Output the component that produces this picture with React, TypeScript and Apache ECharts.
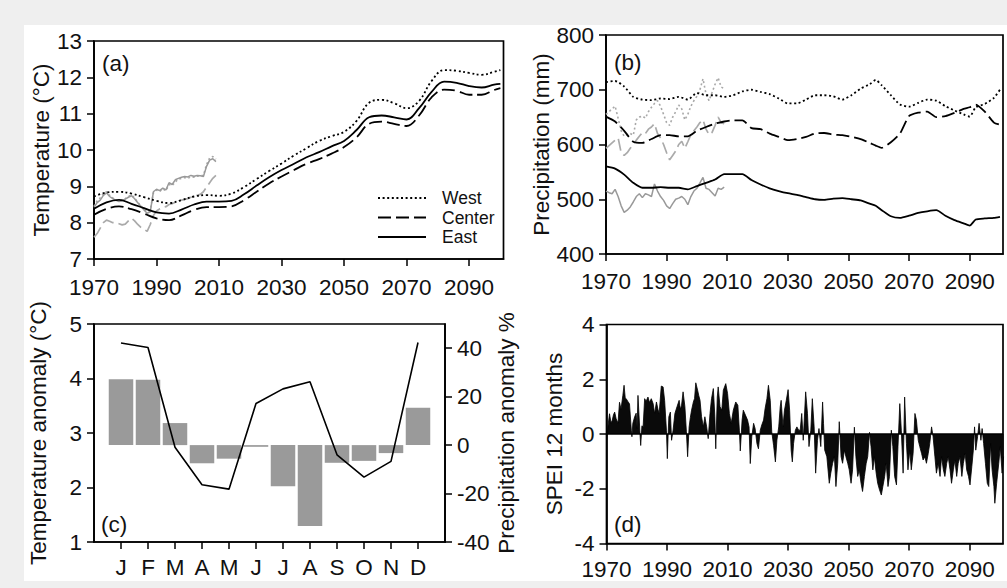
import React, { useEffect, useRef } from 'react';
import * as echarts from 'echarts';

const FONT = '"Liberation Sans", Arial, Helvetica, sans-serif';
const INK = '#111';
const FS = 22.5;

// ---------- Panel (a): temperature ----------
const projYearsA = [1970, 1974, 1978, 1982, 1986, 1990, 1994, 1998, 2002, 2006, 2010, 2014, 2018, 2022, 2026, 2030, 2034, 2038, 2042, 2046, 2050, 2054, 2058, 2062, 2066, 2070, 2074, 2078, 2082, 2086, 2090, 2094, 2098, 2100];
const westTempA = [8.72, 8.83, 8.85, 8.8, 8.7, 8.6, 8.54, 8.62, 8.72, 8.76, 8.74, 8.8, 8.98, 9.2, 9.42, 9.63, 9.85, 10.05, 10.25, 10.38, 10.5, 10.8, 11.3, 11.38, 11.29, 11.15, 11.35, 11.9, 12.2, 12.18, 12.12, 12.07, 12.15, 12.2];
const centerTempA = [8.22, 8.38, 8.45, 8.37, 8.25, 8.12, 8.07, 8.2, 8.35, 8.43, 8.43, 8.45, 8.62, 8.85, 9.08, 9.27, 9.45, 9.62, 9.75, 9.9, 10.08, 10.35, 10.72, 10.78, 10.72, 10.66, 10.95, 11.45, 11.66, 11.63, 11.52, 11.52, 11.65, 11.7];
const eastTempA = [8.38, 8.56, 8.63, 8.52, 8.4, 8.28, 8.25, 8.36, 8.5, 8.58, 8.58, 8.6, 8.78, 9.02, 9.25, 9.45, 9.62, 9.8, 9.94, 10.1, 10.25, 10.55, 10.9, 10.95, 10.9, 10.84, 11.15, 11.6, 11.88, 11.85, 11.76, 11.72, 11.8, 11.82];

const obsYears = Array.from({ length: 40 }, (_, i) => 1970 + i);
const westTempObs = [8.45, 8.6, 8.68, 8.8, 8.85, 8.75, 8.68, 8.62, 8.6, 8.62, 8.66, 8.72, 8.76, 8.68, 8.56, 8.46, 8.38, 8.3, 8.35, 8.82, 8.9, 8.86, 8.93, 8.88, 9.05, 9.02, 9.12, 9.2, 9.22, 9.24, 9.22, 9.26, 9.25, 9.28, 9.3, 9.3, 9.6, 9.78, 9.82, 9.75];
const centerTempObs = [7.6, 7.7, 7.85, 8.0, 8.07, 8.04, 8.0, 8.0, 7.97, 7.94, 7.96, 8.05, 8.12, 8.05, 7.95, 7.87, 7.82, 7.76, 7.95, 8.2, 8.32, 8.38, 8.42, 8.44, 8.5, 8.52, 8.56, 8.6, 8.62, 8.64, 8.66, 8.7, 8.72, 8.75, 8.78, 8.85, 8.98, 9.1, 9.22, 9.3];
const eastTempObs = [8.42, 8.55, 8.62, 8.75, 8.82, 8.72, 8.66, 8.62, 8.58, 8.6, 8.65, 8.7, 8.74, 8.66, 8.55, 8.45, 8.35, 8.26, 8.3, 8.85, 8.92, 8.88, 8.95, 8.9, 9.1, 9.05, 9.18, 9.22, 9.25, 9.27, 9.26, 9.3, 9.28, 9.3, 9.29, 9.27, 9.55, 9.72, 9.76, 9.68];

// ---------- Panel (b): precipitation ----------
const projYearsB = [1970, 1973, 1976, 1979, 1982, 1985, 1988, 1991, 1994, 1997, 2000, 2003, 2006, 2009, 2012, 2015, 2018, 2021, 2024, 2027, 2030, 2033, 2036, 2039, 2042, 2045, 2048, 2051, 2054, 2057, 2059, 2061, 2064, 2067, 2070, 2073, 2076, 2079, 2082, 2085, 2088, 2090, 2092, 2095, 2098, 2100];
const westPrecB = [714, 716, 706, 687, 682, 681, 684, 683, 687, 682, 694, 690, 690, 687, 690, 697, 700, 696, 692, 684, 675, 675, 682, 690, 690, 688, 682, 690, 702, 710, 718, 708, 690, 673, 669, 676, 682, 680, 670, 662, 655, 651, 668, 674, 685, 700];
const centerPrecB = [651, 642, 625, 605, 603, 610, 617, 617, 615, 615, 625, 632, 638, 642, 644, 644, 630, 628, 620, 614, 608, 610, 614, 620, 621, 618, 617, 614, 610, 603, 598, 594, 604, 620, 652, 658, 660, 650, 652, 658, 665, 668, 673, 660, 640, 636];
const eastPrecB = [560, 556, 545, 530, 521, 521, 522, 521, 521, 518, 524, 530, 536, 546, 546, 546, 535, 527, 520, 515, 511, 508, 504, 500, 499, 501, 502, 500, 498, 492, 488, 480, 469, 466, 470, 475, 478, 480, 470, 462, 456, 452, 463, 465, 466, 468];

const westPrecObs = [655, 660, 665, 670, 648, 625, 615, 618, 620, 617, 645, 650, 652, 648, 660, 668, 675, 680, 670, 655, 640, 635, 650, 660, 672, 665, 645, 655, 670, 680, 688, 700, 720, 692, 680, 695, 710, 722, 705, 702];
const centerPrecObs = [593, 598, 603, 608, 612, 585, 580, 585, 593, 600, 608, 615, 622, 620, 628, 632, 638, 620, 612, 600, 585, 572, 580, 588, 600, 606, 593, 605, 618, 625, 632, 640, 645, 628, 618, 622, 635, 650, 640, 638];
const eastPrecObs = [515, 512, 510, 518, 505, 488, 476, 480, 486, 495, 505, 510, 503, 510, 508, 505, 528, 515, 505, 498, 488, 483, 492, 500, 502, 505, 500, 490, 505, 515, 520, 530, 540, 520, 518, 512, 506, 520, 518, 522];

// ---------- Panel (c): monthly anomalies ----------
const months = ['J', 'F', 'M', 'A', 'M', 'J', 'J', 'A', 'S', 'O', 'N', 'D'];
const tempAnomaly = [4.65, 4.57, 2.74, 2.05, 1.97, 3.54, 3.81, 3.94, 2.6, 2.19, 2.48, 4.66];
const precipAnomaly = [27.2, 27.0, 9.1, -7.5, -5.6, -0.7, -17.0, -33.4, -7.3, -6.5, -3.3, 15.4];

// ---------- Panel (d): SPEI 12 months ----------
const speiSeries: [number, number][] = [
  [1970.0, -0.2], [1970.5, 0.3], [1971.0, 0.74], [1971.5, 0.4], [1971.9, 0.5], [1972.3, 0.7], [1972.7, 0.8], [1973.2, 0.55], [1973.8, 0.4], [1974.3, 1.16],
  [1974.8, 0.9], [1975.4, 1.41], [1975.8, 1.78], [1976.2, 1.3], [1976.5, 1.29], [1977.0, 1.2], [1977.6, 1.1], [1978.2, 0.14], [1978.4, -0.1], [1978.7, 0.39],
  [1979.3, 0.63], [1979.8, 0.76], [1980.1, 0.2], [1980.4, 1.41], [1981.0, 0.14], [1981.3, -0.42], [1981.7, 0.3], [1982.1, 0.26], [1982.6, 1.29], [1983.1, 1.2],
  [1983.7, 1.35], [1984.2, 1.15], [1984.8, 1.29], [1985.4, 1.11], [1985.9, 0.75], [1986.5, 1.17], [1987.0, 0.9], [1987.4, 0.75], [1988.1, 1.75], [1988.7, 1.72],
  [1989.2, 1.23], [1989.8, 0.14], [1990.1, -0.9], [1990.4, 0.1], [1990.6, 0.63], [1991.1, 0.8], [1991.5, -0.23], [1992.0, 0.14], [1992.6, 0.75], [1993.3, 1.0],
  [1994.0, 1.23], [1994.4, 0.9], [1994.8, 1.05], [1995.3, 1.54], [1995.9, 1.0], [1996.4, 0.08], [1996.8, -0.83], [1997.3, 0.26], [1997.7, 0.6], [1998.1, 0.87],
  [1998.7, 1.17], [1999.1, 1.3], [1999.5, 1.87], [2000.1, 1.6], [2000.5, 1.4], [2000.9, 1.23], [2001.4, 0.63], [2002.0, 0.26], [2002.5, 0.63], [2003.1, 0.26],
  [2003.6, -0.17], [2004.2, 0.75], [2004.7, 1.29], [2005.3, 1.66], [2005.8, 0.63], [2006.1, -0.54], [2006.6, 1.35], [2006.9, 1.72], [2007.5, 1.0], [2008.1, 0.87],
  [2008.6, 1.6], [2009.4, 1.84], [2010.0, 1.48], [2010.6, 0.75], [2011.2, 0.39], [2011.9, 0.87], [2012.7, 1.17], [2013.4, 1.05], [2013.9, 0.14], [2014.2, -0.62],
  [2014.8, 0.51], [2015.2, 0.87], [2015.9, 0.69], [2016.6, 0.51], [2017.1, 0.26], [2017.5, -1.08], [2018.0, -0.1], [2018.6, 0.39], [2019.1, 0.2], [2019.7, -0.35],
  [2020.2, -0.54], [2020.8, 0.14], [2021.3, 0.33], [2021.9, 0.51], [2022.4, 0.93], [2023.0, 1.29], [2023.5, 1.78], [2024.1, 1.23], [2024.6, 0.08], [2025.2, -0.41],
  [2025.8, -1.02], [2026.3, -0.23], [2026.9, 0.26], [2027.4, 1.0], [2027.7, 1.23], [2028.3, 0.26], [2028.8, 0.87], [2029.4, 1.23], [2030.0, 1.62], [2030.5, 0.87],
  [2031.0, -0.59], [2031.4, -1.02], [2031.8, -0.35], [2032.4, 0.14], [2032.9, 0.26], [2033.5, 0.14], [2034.0, 0.14], [2034.5, 0.75], [2035.0, -0.23], [2035.8, 1.54],
  [2036.4, 0.75], [2036.9, -0.46], [2037.5, 0.14], [2038.0, 1.29], [2038.6, 0.26], [2039.1, -1.43], [2039.7, -0.23], [2040.2, 0.2], [2040.8, -0.46], [2041.4, 1.17],
  [2041.7, 0.39], [2042.1, -0.59], [2042.8, -0.83], [2043.6, -1.8], [2044.1, -1.43], [2044.7, -1.07], [2045.3, -0.83], [2045.8, -1.92], [2046.4, -1.07], [2046.9, 0.45],
  [2047.5, -0.83], [2048.0, -1.07], [2048.6, -0.59], [2049.1, -0.83], [2049.7, -1.07], [2050.2, -1.31], [2050.8, -1.8], [2051.3, -1.31], [2051.9, 0.25], [2052.4, -0.83],
  [2053.0, -1.55], [2053.5, -1.31], [2054.1, -1.8], [2054.6, -2.1], [2055.2, -1.55], [2055.8, -1.07], [2056.3, -0.83], [2056.9, 0.06], [2057.4, -0.46], [2058.0, -1.31],
  [2058.5, -0.83], [2059.1, -1.43], [2059.6, -1.8], [2060.2, -2.04], [2060.8, -2.23], [2061.3, -1.92], [2061.9, -1.55], [2062.4, -1.07], [2063.0, -1.92], [2063.5, -1.55],
  [2064.1, 0.14], [2064.6, -0.46], [2065.2, -1.55], [2065.8, -1.86], [2066.3, -0.46], [2066.9, 1.11], [2067.4, 0.14], [2068.0, -1.43], [2068.5, 1.35], [2069.1, -0.35],
  [2069.6, -1.31], [2070.2, -0.59], [2070.7, -1.31], [2071.3, -0.71], [2071.9, 0.75], [2072.4, 0.51], [2073.0, -0.23], [2073.5, -0.46], [2074.1, -0.71], [2074.6, -0.95],
  [2075.2, -0.83], [2075.7, -1.07], [2076.3, -0.71], [2076.8, -0.35], [2077.4, 0.26], [2077.9, -0.1], [2078.5, -0.83], [2079.0, -1.43], [2079.6, -1.07], [2080.2, -1.55],
  [2080.7, -0.83], [2081.3, -1.31], [2081.8, -1.55], [2082.4, -1.07], [2082.9, -0.83], [2083.5, -1.31], [2084.0, -1.8], [2084.6, -1.31], [2085.1, -0.95], [2085.7, -1.55],
  [2086.2, -1.07], [2086.8, -0.83], [2087.4, -1.55], [2087.9, -1.07], [2088.5, -0.71], [2089.0, -1.31], [2089.6, -1.55], [2090.1, -1.86], [2090.7, -1.19], [2091.2, -0.59],
  [2091.6, 0.26], [2092.0, -0.59], [2092.6, -0.1], [2093.1, 0.39], [2093.7, -0.23], [2094.1, 0.2], [2094.6, -0.35], [2095.2, -1.07], [2095.8, -1.8], [2096.3, -1.92],
  [2096.9, -0.35], [2097.4, -1.31], [2098.0, -1.92], [2098.3, -2.53], [2098.9, -1.8], [2099.6, -1.07], [2100.1, -0.46], [2100.7, -1.43], [2101.2, -0.83],
];

const yearTicks = [1970, 1990, 2010, 2030, 2050, 2070, 2090];
const monthTicks = months.map((_, i) => i + 1);

const zip = (xs: number[], ys: number[]) => xs.map((x, i) => [x, ys[i]]);

const axisLine = { show: true, onZero: false, lineStyle: { color: '#000', width: 1.7 } };
const tickBase = { show: true, length: 7, inside: false, lineStyle: { color: '#000', width: 1.5 } };
const labelBase = { color: INK, fontSize: FS, fontFamily: FONT };
const nameStyle = { color: INK, fontSize: FS, fontFamily: FONT };

const yearAxis = (gridIndex: number, margin: number) => ({
  gridIndex,
  type: 'value',
  min: 1970,
  max: 2101,
  axisLine,
  axisTick: { ...tickBase, customValues: yearTicks },
  axisLabel: { ...labelBase, margin, customValues: yearTicks, formatter: (v: number) => String(v) },
  splitLine: { show: false },
});

const valueAxis = (gridIndex: number, min: number, max: number, interval: number, name: string, nameGap: number) => ({
  gridIndex,
  type: 'value',
  min,
  max,
  interval,
  name,
  nameLocation: 'middle',
  nameGap,
  nameTextStyle: nameStyle,
  axisLine,
  axisTick: tickBase,
  axisLabel: { ...labelBase, margin: 12, formatter: (v: number) => String(v) },
  splitLine: { show: false },
});

const lineSeries = (name: string, xi: number, yi: number, data: number[][], color: string, type: any, width: number, smooth: number | boolean) => ({
  name,
  type: 'line',
  xAxisIndex: xi,
  yAxisIndex: yi,
  data,
  symbol: 'none',
  smooth,
  lineStyle: { color, type, width, cap: 'butt' },
  itemStyle: { color },
  z: 3,
});

const DOT: number[] = [2, 2.6];
const DASH: number[] = [13, 5];
const GRAY_DASH: number[] = [12, 5];

export default function App() {
  const ref = useRef<HTMLDivElement>(null);

  useEffect(() => {
    if (!ref.current) return;
    const chart = echarts.init(ref.current, undefined, { renderer: 'svg' });

    const gridStyle = { show: true, borderColor: '#000', borderWidth: 1.7, backgroundColor: 'transparent' };

    const option: any = {
      animation: false,
      backgroundColor: '#efefef',
      textStyle: { fontFamily: FONT },
      grid: [
        { ...gridStyle, left: 94, top: 41, width: 409.5, height: 218 },
        { ...gridStyle, left: 606, top: 35, width: 397, height: 219 },
        { ...gridStyle, left: 94, top: 324, width: 351, height: 218 },
        { ...gridStyle, left: 606.5, top: 324.5, width: 396.5, height: 219 },
      ],
      xAxis: [
        yearAxis(0, 17),
        yearAxis(1, 15.5),
        {
          gridIndex: 2,
          type: 'value',
          min: 0,
          max: 13,
          axisLine,
          axisTick: { ...tickBase, customValues: monthTicks },
          axisLabel: {
            ...labelBase,
            margin: 14,
            customValues: monthTicks,
            formatter: (v: number) => months[v - 1] ?? '',
          },
          splitLine: { show: false },
        },
        yearAxis(3, 14),
      ],
      yAxis: [
        valueAxis(0, 7, 13, 1, 'Temperature (°C)', 41),
        valueAxis(1, 400, 800, 100, 'Precipitation (mm)', 51),
        valueAxis(2, 1, 5, 1, 'Temperature anomaly (°C)', 44),
        {
          gridIndex: 2,
          type: 'value',
          position: 'right',
          min: -40,
          max: 50,
          name: 'Precipitation anomaly %',
          nameLocation: 'middle',
          nameGap: 50,
          nameTextStyle: nameStyle,
          axisLine,
          axisTick: { ...tickBase, customValues: [-40, -20, 0, 20, 40] },
          axisLabel: { ...labelBase, margin: 12, customValues: [-40, -20, 0, 20, 40], formatter: (v: number) => String(v) },
          splitLine: { show: false },
        },
        valueAxis(3, -4, 4, 2, 'SPEI 12 months', 41),
      ],
      legend: {
        data: ['West', 'Center', 'East'],
        orient: 'vertical',
        left: 372,
        top: 184,
        itemWidth: 48,
        itemHeight: 19,
        itemGap: 1.5,
        selectedMode: false,
        itemStyle: { color: 'transparent', borderColor: 'transparent', borderWidth: 0, opacity: 0 },
        textStyle: { color: INK, fontSize: 17.5, fontFamily: FONT, padding: [0, 0, 0, 11] },
      },
      graphic: [
        { type: 'rect', z: -10, shape: { x: 24, y: 25, width: 983, height: 556 }, style: { fill: '#ffffff' } },
        { type: 'text', x: 102, y: 63, style: { text: '(a)', fontSize: FS, fontFamily: FONT, fill: INK, verticalAlign: 'middle' } },
        { type: 'text', x: 614, y: 62, style: { text: '(b)', fontSize: FS, fontFamily: FONT, fill: INK, verticalAlign: 'middle' } },
        { type: 'text', x: 101, y: 524, style: { text: '(c)', fontSize: FS, fontFamily: FONT, fill: INK, verticalAlign: 'middle' } },
        { type: 'text', x: 614, y: 524, style: { text: '(d)', fontSize: FS, fontFamily: FONT, fill: INK, verticalAlign: 'middle' } },
      ],
      series: [
        // (a) observed
        lineSeries('West obs', 0, 0, zip(obsYears, westTempObs), '#a8a8a8', DOT, 1.6, false),
        lineSeries('Center obs', 0, 0, zip(obsYears, centerTempObs), '#aaaaaa', GRAY_DASH, 1.7, false),
        lineSeries('East obs', 0, 0, zip(obsYears, eastTempObs), '#999999', 'solid', 1.5, false),
        // (a) projected
        lineSeries('West', 0, 0, zip(projYearsA, westTempA), '#000', DOT, 1.8, 0.4),
        lineSeries('Center', 0, 0, zip(projYearsA, centerTempA), '#000', DASH, 1.8, 0.4),
        lineSeries('East', 0, 0, zip(projYearsA, eastTempA), '#000', 'solid', 1.8, 0.4),
        // (b) observed
        lineSeries('West obs b', 1, 1, zip(obsYears, westPrecObs), '#a8a8a8', DOT, 1.6, false),
        lineSeries('Center obs b', 1, 1, zip(obsYears, centerPrecObs), '#aaaaaa', GRAY_DASH, 1.7, false),
        lineSeries('East obs b', 1, 1, zip(obsYears, eastPrecObs), '#999999', 'solid', 1.5, false),
        // (b) projected
        lineSeries('West b', 1, 1, zip(projYearsB, westPrecB), '#000', DOT, 1.8, 0.2),
        lineSeries('Center b', 1, 1, zip(projYearsB, centerPrecB), '#000', DASH, 1.8, 0.2),
        lineSeries('East b', 1, 1, zip(projYearsB, eastPrecB), '#000', 'solid', 1.8, 0.2),
        // (c)
        {
          name: 'Precipitation anomaly',
          type: 'bar',
          xAxisIndex: 2,
          yAxisIndex: 3,
          data: precipAnomaly.map((v, i) => [i + 1, v]),
          barWidth: 24.5,
          itemStyle: { color: '#9a9a9a' },
          z: 2,
        },
        {
          name: 'Temperature anomaly',
          type: 'line',
          xAxisIndex: 2,
          yAxisIndex: 2,
          data: tempAnomaly.map((v, i) => [i + 1, v]),
          symbol: 'none',
          lineStyle: { color: '#000', width: 1.6 },
          z: 4,
        },
        // (d)
        {
          name: 'SPEI',
          type: 'line',
          xAxisIndex: 3,
          yAxisIndex: 4,
          data: speiSeries,
          symbol: 'none',
          lineStyle: { color: '#000', width: 0.8 },
          areaStyle: { color: '#0a0a0a', opacity: 1, origin: 'auto' },
          markLine: {
            silent: true,
            symbol: 'none',
            label: { show: false },
            lineStyle: { color: '#000', type: 'solid', width: 1.5 },
            data: [{ yAxis: 0 }],
          },
          z: 3,
        },
      ],
    };

    chart.setOption(option);
    return () => chart.dispose();
  }, []);

  return (
    <div
      ref={ref}
      style={{ position: 'absolute', left: 0, top: 0, width: 1007, height: 588 }}
    />
  );
}
